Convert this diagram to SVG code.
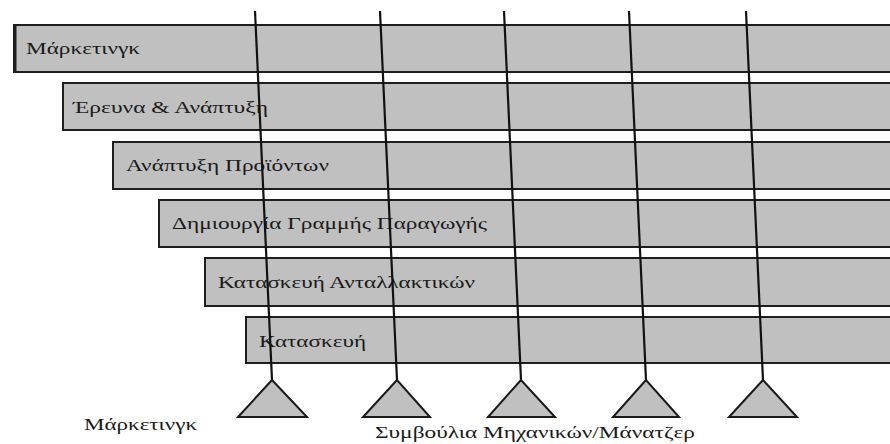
<svg xmlns="http://www.w3.org/2000/svg" width="890" height="444" viewBox="0 0 890 444">
  <style>
    .bar { fill: #c0c0c0; stroke: #1e1e1e; stroke-width: 2; }
    .lbl { font-family: "Liberation Serif", "DejaVu Serif", serif; font-size: 17px; fill: #1a1a1a; }
    .line { stroke: #111; stroke-width: 2.2; fill: none; }
    .tri { fill: #c0c0c0; stroke: #1a1a1a; stroke-width: 2; stroke-linejoin: miter; }
  </style>
  <rect width="890" height="444" fill="#fff"/>

  <!-- departments, staggered bars running off the right edge -->
  <g id="marketing">
    <rect class="bar" x="14" y="25" width="890" height="47"/>
    <line x1="15" y1="25" x2="15" y2="72" stroke="#1e1e1e" stroke-width="3"/>
    <text class="lbl" x="26" y="54" textLength="114" lengthAdjust="spacingAndGlyphs">Μάρκετινγκ</text>
  </g>
  <g id="research-development">
    <rect class="bar" x="63" y="83" width="840" height="47"/>
    <text class="lbl" x="73" y="113" textLength="195" lengthAdjust="spacingAndGlyphs">Έρευνα &amp; Ανάπτυξη</text>
  </g>
  <g id="product-development">
    <rect class="bar" x="113" y="142" width="790" height="47"/>
    <text class="lbl" x="126" y="171" textLength="203" lengthAdjust="spacingAndGlyphs">Ανάπτυξη Προϊόντων</text>
  </g>
  <g id="production-line">
    <rect class="bar" x="159" y="200" width="740" height="47"/>
    <text class="lbl" x="172" y="229" textLength="315" lengthAdjust="spacingAndGlyphs">Δημιουργία Γραμμής Παραγωγής</text>
  </g>
  <g id="spare-parts">
    <rect class="bar" x="205" y="258" width="690" height="48"/>
    <text class="lbl" x="218" y="288" textLength="257" lengthAdjust="spacingAndGlyphs">Κατασκευή Ανταλλακτικών</text>
  </g>
  <g id="manufacturing">
    <rect class="bar" x="246" y="317" width="650" height="46"/>
    <text class="lbl" x="259" y="347" textLength="107" lengthAdjust="spacingAndGlyphs">Κατασκευή</text>
  </g>

  <!-- vertical threads crossing all departments -->
  <g id="connectors">
    <line class="line" x1="255" y1="11" x2="272" y2="380"/>
    <line class="line" x1="380" y1="11" x2="397" y2="380"/>
    <line class="line" x1="504" y1="11" x2="521" y2="380"/>
    <line class="line" x1="629" y1="11" x2="646" y2="380"/>
    <line class="line" x1="746" y1="11" x2="763" y2="380"/>
  </g>

  <!-- supporting triangles -->
  <g id="support-1"><polygon class="tri" points="272,380 238,417 307,417"/></g>
  <g id="support-2"><polygon class="tri" points="397,380 363,417 430,417"/></g>
  <g id="support-3"><polygon class="tri" points="521,380 488,417 555,417"/></g>
  <g id="support-4"><polygon class="tri" points="646,380 613,417 679,417"/></g>
  <g id="support-5"><polygon class="tri" points="763,380 729,417 797,417"/></g>

  <g id="bottom-labels">
    <text class="lbl" x="84" y="430" textLength="113" lengthAdjust="spacingAndGlyphs">Μάρκετινγκ</text>
    <text class="lbl" x="375" y="438" textLength="320" lengthAdjust="spacingAndGlyphs">Συμβούλια Μηχανικών/Μάνατζερ</text>
  </g>
</svg>
